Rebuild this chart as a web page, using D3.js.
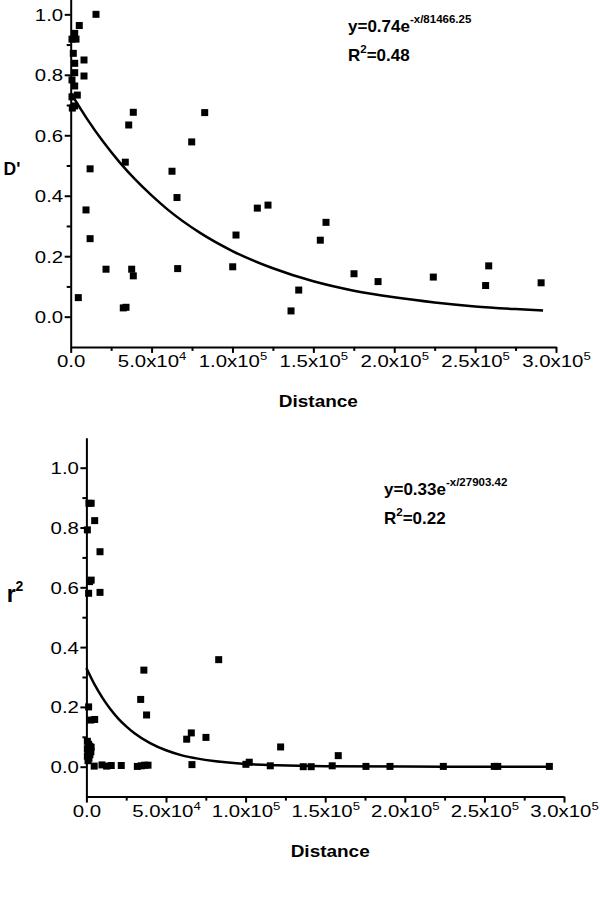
<!DOCTYPE html>
<html>
<head>
<meta charset="utf-8">
<script src="https://cdn.jsdelivr.net/npm/d3@7"></script>
<style>
  body { margin: 0; background: #fff; }
  text { font-family: Arial, "Liberation Sans", sans-serif; fill: #000; }
</style>
</head>
<body>
<script>
// ---- data ----
// top panel: distance vs D'
var dpDist = [800, 2470, 3280, 5300, 15640, 1600, 8220, 2470, 2470, 8220, 800, 2470, 4080, 800, 2470, 1000,
  11990, 9460, 11990, 4700, 21830, 32500, 34200, 37700, 38700, 33750, 35860, 38700, 62620, 65710, 66130,
  74800, 82840, 100150, 102190, 115370, 121970, 136200, 140960, 154300, 157820, 175130, 190000, 224150,
  256500, 258400, 290800];
var dpVal = [0.918, 0.937, 0.918, 0.963, 1.0, 0.871, 0.849, 0.838, 0.807, 0.796, 0.783, 0.763, 0.733, 0.727, 0.697, 0.69,
  0.489, 0.353, 0.258, 0.063, 0.157, 0.029, 0.031, 0.157, 0.135, 0.511, 0.634, 0.676, 0.481, 0.394, 0.159,
  0.578, 0.675, 0.165, 0.270, 0.359, 0.369, 0.019, 0.088, 0.253, 0.312, 0.142, 0.116, 0.131,
  0.103, 0.168, 0.112];

// bottom panel: distance vs r2
var r2Dist = [1600, 3000, 5200, 600, 8550, 3000, 2000, 1400, 8550, 36100, 34100, 37800, 1400, 2700, 5200,
  600, 1400, 2200, 600, 1800, 2800, 1000, 2200, 600, 1600, 1000, 3000,
  4900, 9800, 12700, 15600, 21900, 32000, 34500, 36600, 38700,
  83100, 63000, 65900, 75100, 66300, 122000, 158200, 100200, 102300, 115500, 136200, 141200, 154400,
  175600, 190700, 224200, 256200, 258400, 290800];
var r2Val = [0.881, 0.881, 0.823, 0.792, 0.719, 0.624, 0.619, 0.58, 0.583, 0.323, 0.225, 0.173, 0.2, 0.156, 0.158,
  0.085, 0.075, 0.068, 0.06, 0.055, 0.05, 0.045, 0.04, 0.035, 0.028, 0.02, 0.065,
  0.002, 0.006, 0.002, 0.004, 0.004, 0.001, 0.003, 0.005, 0.005,
  0.358, 0.092, 0.113, 0.098, 0.007, 0.066, 0.037, 0.008, 0.015, 0.003, 0.0, 0.0, 0.003,
  0.001, 0.001, 0.001, 0.001, 0.001, 0.001];

// fitted decay curves
var dpFitDist = [0, 10000, 20000, 30000, 40000, 50000, 60000, 80000, 100000, 125000, 150000, 175000, 200000, 225000, 250000, 275000, 292000];
var dpFitVal = [0.74, 0.655, 0.579, 0.512, 0.453, 0.401, 0.354, 0.277, 0.217, 0.160, 0.117, 0.086, 0.064, 0.047, 0.034, 0.025, 0.020];
var r2FitDist = [0, 5000, 10000, 15000, 20000, 25000, 30000, 40000, 50000, 60000, 70000, 80000, 100000, 120000, 150000, 200000, 250000, 292000];
var r2FitVal = [0.33, 0.276, 0.231, 0.193, 0.161, 0.135, 0.113, 0.079, 0.055, 0.038, 0.027, 0.019, 0.009, 0.0045, 0.0015, 0.0003, 0.0001, 0];

// ticks
var xMajor = [0, 50000, 100000, 150000, 200000, 250000, 300000];
var xMinor = [25000, 75000, 125000, 175000, 225000, 275000];
var xTickMant = ["0.0", "5.0x10", "1.0x10", "1.5x10", "2.0x10", "2.5x10", "3.0x10"];
var xTickExp = ["", "4", "5", "5", "5", "5", "5"];
var yMajor = [0, 0.2, 0.4, 0.6, 0.8, 1.0];
var yMinor = [0.1, 0.3, 0.5, 0.7, 0.9];

var TICK_SX = 1.2; // tick labels in the picture are wider than plain Arial

var svg = d3.select("body").append("svg")
  .attr("width", 600)
  .attr("height", 901);

// helper: text made of pieces [string, size, dy]
function richText(parent, x, y, parts, anchor, weight, sx) {
  var t = parent.append("g")
    .attr("transform", "translate(" + x + "," + y + ") scale(" + (sx || 1) + ",1)")
    .append("text")
    .attr("text-anchor", anchor || "start")
    .style("font-weight", weight || "normal");
  parts.forEach(function(p) {
    t.append("tspan").attr("dy", p[2] || 0).style("font-size", p[1] + "px").text(p[0]);
  });
  return t;
}

function drawPanel(o) {
  var g = svg.append("g");
  var x = d3.scaleLinear().domain([0, 300000]).range([o.x0, o.x1]);
  var y = d3.scaleLinear().domain([-0.1, 1.1]).range([o.yBot, o.yTop]);

  // x axis
  var xAx = g.append("g").attr("transform", "translate(0," + y(-0.1) + ")");
  xAx.call(d3.axisBottom(x).tickValues(xMajor).tickSize(6).tickSizeOuter(0).tickFormat(""));
  xAx.append("g").call(d3.axisBottom(x).tickValues(xMinor).tickSize(4).tickFormat(""))
    .select(".domain").remove();
  xAx.selectAll(".tick").filter(function(d) { return xMajor.indexOf(d) >= 0; })
    .each(function(d) {
      var i = xMajor.indexOf(d);
      var parts = [[xTickMant[i], 17]];
      if (xTickExp[i]) parts.push([xTickExp[i], 11, -7]);
      richText(d3.select(this), 0, 20.5, parts, "middle", "normal", TICK_SX);
    });

  // y axis
  var yAx = g.append("g").attr("transform", "translate(" + x(0) + ",0)");
  yAx.call(d3.axisLeft(y).tickValues(yMajor).tickSize(6).tickSizeOuter(0).tickFormat(""));
  yAx.append("g").call(d3.axisLeft(y).tickValues(yMinor).tickSize(4).tickFormat(""))
    .select(".domain").remove();
  yAx.selectAll(".tick").filter(function(d) { return yMajor.indexOf(d) >= 0; })
    .each(function(d) {
      richText(d3.select(this), -7.5, 6, [[d3.format(".1f")(d), 17]], "end", "normal", TICK_SX);
    });

  g.selectAll(".domain").attr("stroke", "#000").attr("stroke-width", 2);
  g.selectAll(".tick line").attr("stroke", "#000").attr("stroke-width", 2);

  // fit line
  var pts = o.fitDist.map(function(d, i) { return [d, o.fitVal[i]]; });
  g.append("path")
    .datum(pts)
    .attr("fill", "none")
    .attr("stroke", "#000")
    .attr("stroke-width", 2.5)
    .attr("d", d3.line()
      .x(function(d) { return x(d[0]); })
      .y(function(d) { return y(d[1]); })
      .curve(d3.curveMonotoneX));

  // points
  var s = 7;
  g.selectAll(".pt")
    .data(o.dist)
    .enter()
    .append("rect")
    .attr("class", "pt")
    .attr("x", function(d) { return x(d) - s / 2; })
    .attr("y", function(d, i) { return y(o.val[i]) - s / 2; })
    .attr("width", s)
    .attr("height", s)
    .attr("fill", "#000");

  // titles
  richText(g, (o.x0 + o.x1) / 2 + 5, y(-0.1) + 60, [["Distance", 16.5]], "middle", "bold", 1.15);
  richText(g, o.yLabX, o.yLabY, o.yLab, "middle", "bold");
  richText(g, o.eqX, o.eqY, o.eq, "start", "bold");
  richText(g, o.eqX, o.eqY + 29, o.r2, "start", "bold");
}

drawPanel({
  x0: 70.7, x1: 556, yBot: 346.9, yTop: -15.9,
  dist: dpDist, val: dpVal, fitDist: dpFitDist, fitVal: dpFitVal,
  yLabX: 12, yLabY: 175, yLab: [["D'", 17.5]],
  eqX: 348, eqY: 31.5,
  eq: [["y=0.74e", 17], ["-x/81466.25", 11.5, -9]],
  r2: [["R", 17], ["2", 11.5, -8], ["=0.48", 17, 8]]
});

drawPanel({
  x0: 86.4, x1: 564, yBot: 796.6, yTop: 437.8,
  dist: r2Dist, val: r2Val, fitDist: r2FitDist, fitVal: r2FitVal,
  yLabX: 15, yLabY: 602, yLab: [["r", 23], ["2", 14, -11]],
  eqX: 384, eqY: 495,
  eq: [["y=0.33e", 17], ["-x/27903.42", 11.5, -9]],
  r2: [["R", 17], ["2", 11.5, -8], ["=0.22", 17, 8]]
});
</script>
</body>
</html>
